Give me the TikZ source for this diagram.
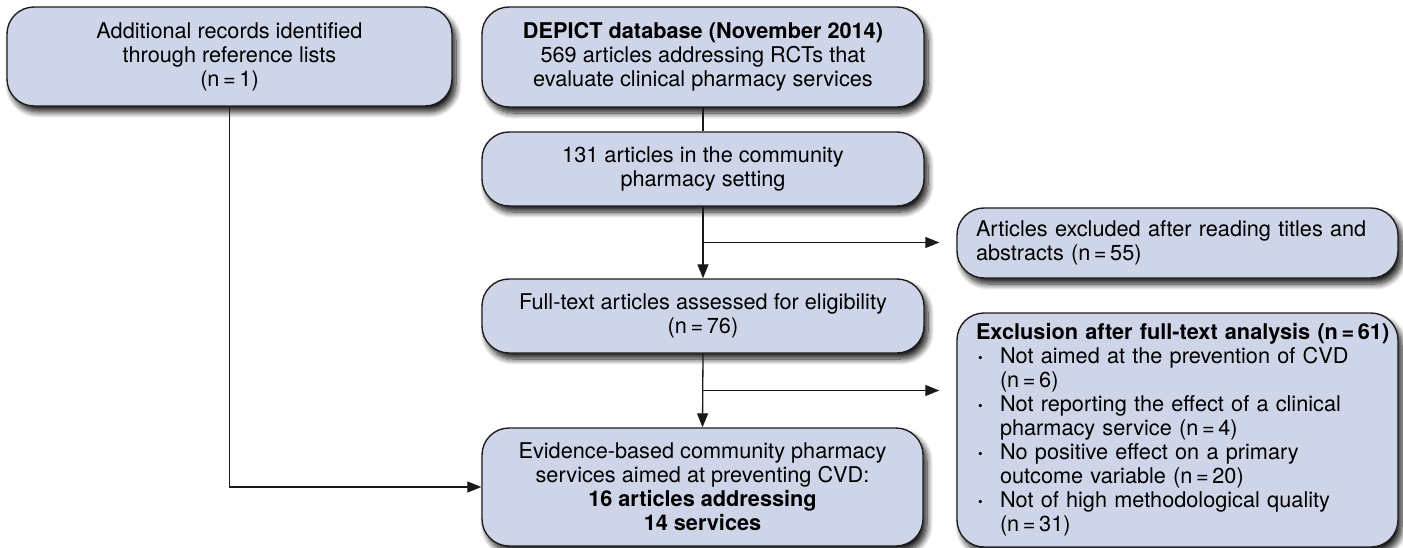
\documentclass[tikz,border=0pt]{standalone}
\usepackage{fontspec}
\setmainfont{TeX Gyre Heros}
\usetikzlibrary{arrows.meta,shadows.blur,calc}
\definecolor{boxfill}{RGB}{207,213,232}
\definecolor{boxline}{RGB}{30,30,30}
\definecolor{linkcol}{RGB}{25,25,25}
\newcommand\exclitem{\makebox[24pt][l]{\hspace{2pt}\raisebox{1pt}{\fontsize{13pt}{13pt}\selectfont\textbullet}}}
\newcommand\exclcont{\hspace*{24pt}}
\tikzset{
  stagebox/.style={draw=boxline, line width=1.4pt, fill=boxfill,
    rounded corners=27pt, align=center, inner sep=0pt,
    font=\fontsize{21.7pt}{24pt}\selectfont,
    blur shadow={shadow xshift=4pt, shadow yshift=-6pt,
      shadow blur radius=6pt, shadow blur steps=10, shadow opacity=90}},
  leftbox/.style={stagebox, align=left, inner xsep=19pt},
  conn/.style={draw=linkcol, line width=1.3pt},
  arr/.style={conn, -{Triangle[length=14pt,width=11pt]}}
}
\begin{document}
\begin{tikzpicture}[x=1pt,y=-1pt]
\useasboundingbox (0,0) rectangle (1403,548);

% boxes of the flow
\node[stagebox, minimum width=445pt, minimum height=99pt] (records) at (229.5,56.5)
  {Additional records identified\\through reference lists\\(n\,=\,1)};
\node[stagebox, minimum width=442pt, minimum height=100pt] (depict) at (703,57)
  {\textbf{DEPICT database (November 2014)}\\569 articles addressing RCTs that\\evaluate clinical pharmacy services};
\node[stagebox, minimum width=442pt, minimum height=74pt] (community) at (703,169)
  {131 articles in the community\\pharmacy setting};
\node[leftbox, text width=403pt, minimum height=70pt] (abstracts) at (1177.5,243)
  {Articles excluded after reading titles and\\abstracts (n\,=\,55)};
\node[stagebox, minimum width=442pt, minimum height=74pt] (fulltext) at (703,316)
  {Full-text articles assessed for eligibility\\(n\,=\,76)};
\node[leftbox, text width=403pt, minimum height=234pt] (fullexcl) at (1177.5,430)
  {\makebox[403pt][l]{\textbf{Exclusion after full-text analysis (n\,=\,61)}}\\
   \exclitem Not aimed at the prevention of CVD\\
   \exclcont(n\,=\,6)\\
   \exclitem Not reporting the effect of a clinical\\
   \exclcont pharmacy service (n\,=\,4)\\
   \exclitem No positive effect on a primary\\
   \exclcont outcome variable (n\,=\,20)\\
   \exclitem Not of high methodological quality\\
   \exclcont(n\,=\,31)};
\node[stagebox, minimum width=441pt, minimum height=118pt] (evidence) at (702.5,487)
  {Evidence-based community pharmacy\\services aimed at preventing CVD:\\\textbf{16 articles addressing}\\\textbf{14 services}};

% connectors
\draw[conn] (depict.south) -- (community.north);
\draw[arr] (community.south) -- (fulltext.north);
\coordinate (split1) at ($(community.south)!0.5!(fulltext.north)$);
\draw[arr, shorten >=17pt] (split1) -- (split1 -| abstracts.west);
\draw[arr] (fulltext.south) -- (evidence.north);
\coordinate (split2) at ($(fulltext.south)!0.5!(evidence.north)$);
\draw[arr, shorten >=17pt] (split2) -- (split2 -| fullexcl.west);
\draw[arr] (records.south) |- (evidence.west);
\end{tikzpicture}
\end{document}
